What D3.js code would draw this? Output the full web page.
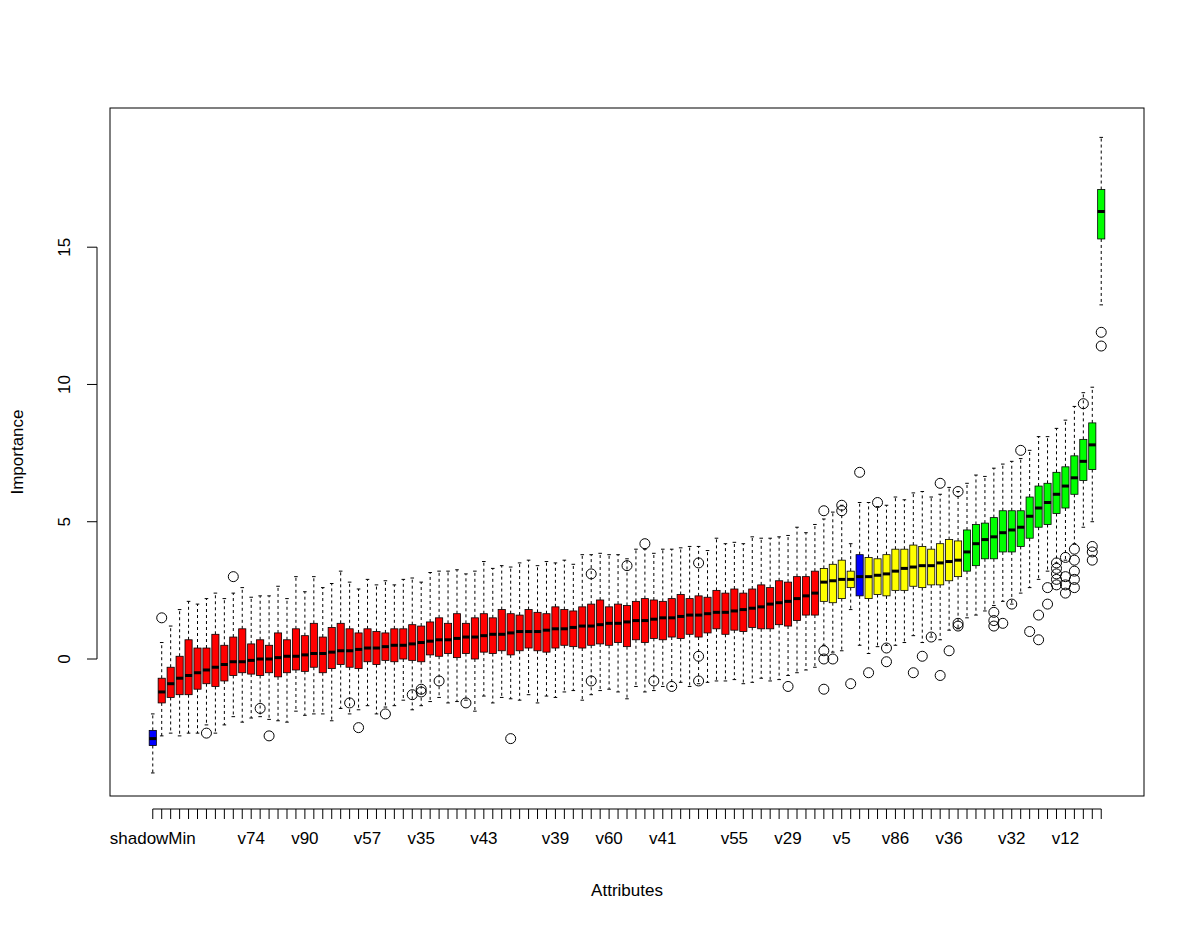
<!DOCTYPE html>
<html><head><meta charset="utf-8">
<script src="https://cdn.jsdelivr.net/npm/d3@7"></script>
<style>body{margin:0;background:#fff}text{font-family:"Liberation Sans",Arial,sans-serif}</style>
</head><body><svg id="c" width="1200" height="933"></svg>
<script>
const medians=[-2.9,-1.2,-0.9,-0.7,-0.6,-0.5,-0.4,-0.3,-0.2,-0.1,-0.1,-0.05,0,0,0.05,0.1,0.1,0.15,0.2,0.2,0.25,0.3,0.3,0.35,0.4,0.4,0.45,0.5,0.5,0.55,0.6,0.65,0.7,0.7,0.75,0.8,0.8,0.85,0.9,0.9,0.95,1.0,1.0,1.0,1.05,1.1,1.1,1.15,1.2,1.2,1.25,1.3,1.3,1.35,1.4,1.4,1.45,1.5,1.5,1.55,1.6,1.6,1.65,1.7,1.7,1.75,1.8,1.85,1.9,2.0,2.05,2.1,2.2,2.3,2.4,2.8,2.85,2.9,2.9,3.0,3.0,3.05,3.1,3.2,3.3,3.35,3.4,3.4,3.5,3.55,3.6,3.9,4.2,4.35,4.45,4.6,4.7,4.8,5.2,5.5,5.7,6.0,6.3,6.6,7.2,7.8,16.3];
const lowBox=[0.25,0.4,0.5,0.6,0.7,0.6,0.5,0.7,0.6,0.5,0.4,0.5,0.6,0.5,0.7,0.6,0.5,0.6,0.5,0.7,0.6,0.5,0.6,0.7,0.5,0.6,0.5,0.6,0.5,0.6,0.7,0.5,0.6,0.5,0.7,0.6,0.8,0.6,0.7,0.6,0.8,0.7,0.6,0.7,0.8,0.7,0.6,0.7,0.8,0.7,0.7,0.8,0.7,0.9,0.7,0.8,0.7,0.8,0.7,0.8,0.7,0.8,0.7,0.6,0.8,0.7,0.8,0.7,0.8,0.9,0.8,0.9,0.8,0.7,0.8,0.7,0.8,0.7,0.3,0.7,0.8,0.7,0.8,0.7,0.8,0.7,0.8,0.7,0.8,0.7,0.6,0.7,0.8,0.7,0.8,0.7,0.8,0.7,0.8,0.7,0.8,0.7,0.8,0.6,0.7,0.9,1.0];
const highBox=[0.3,0.5,0.6,0.8,1.3,0.9,0.8,1.2,0.7,0.9,1.2,0.6,0.7,0.5,0.9,0.6,1.0,0.7,1.1,0.6,0.9,1.0,0.8,0.6,0.7,0.6,0.5,0.6,0.6,0.7,0.6,0.7,0.8,0.6,0.9,0.5,0.7,0.8,0.6,0.9,0.7,0.6,0.8,0.7,0.6,0.8,0.7,0.6,0.7,0.8,0.9,0.6,0.7,0.6,0.7,0.8,0.7,0.6,0.7,0.8,0.6,0.7,0.6,0.8,0.7,0.8,0.6,0.7,0.8,0.6,0.8,0.7,0.8,0.7,0.8,0.5,0.6,0.7,0.3,0.8,0.7,0.6,0.7,0.8,0.7,0.8,0.7,0.6,0.7,0.8,0.7,0.8,0.7,0.6,0.7,0.8,0.7,0.6,0.7,0.8,0.7,0.8,0.7,0.8,0.8,0.8,0.8];
const whiskLo=[1.0,1.2,1.3,1.5,1.4,1.6,1.5,1.7,1.6,1.5,1.8,1.6,1.5,1.7,1.6,1.8,1.5,1.6,1.7,1.5,1.9,1.6,1.7,1.5,1.6,1.8,1.7,1.6,1.5,1.8,1.6,1.7,1.5,1.8,1.6,1.7,1.9,1.6,1.8,1.7,1.6,1.8,1.7,1.9,1.6,1.8,1.7,1.6,1.9,1.8,1.7,1.6,1.8,1.9,1.7,1.8,1.9,1.7,1.8,1.6,1.9,1.7,1.8,1.9,1.7,1.8,1.9,2.0,1.8,1.9,2.0,1.8,1.9,2.0,1.9,1.6,1.8,1.9,0.8,1.8,2.0,1.9,1.8,2.0,1.9,1.8,2.0,1.9,2.0,1.8,1.9,1.7,1.8,1.9,1.7,1.8,1.9,1.7,1.8,1.9,1.7,1.8,1.9,1.8,1.7,1.9,2.4];
const whiskHi=[0.6,1.3,1.5,1.7,1.4,1.6,1.8,1.5,1.7,1.6,1.5,1.7,1.6,1.8,1.7,1.5,1.9,1.6,1.7,1.8,1.6,1.9,1.7,1.6,1.8,1.7,1.9,1.6,1.8,1.7,1.6,1.8,1.7,1.9,1.6,1.8,1.7,1.9,1.8,1.6,1.7,1.9,1.8,1.7,1.9,1.6,1.8,1.7,1.9,1.8,1.7,1.9,1.8,1.7,1.9,1.8,1.7,1.9,1.8,1.7,1.9,1.8,1.7,1.9,1.8,1.7,1.8,1.9,1.7,1.8,1.6,1.7,1.8,1.6,1.7,1.8,1.9,2.0,1.0,1.9,2.0,1.9,1.8,1.9,1.8,1.9,2.0,1.9,1.8,1.9,1.8,1.7,1.8,1.7,1.8,1.7,1.8,1.9,1.7,1.8,1.7,1.6,1.7,1.8,1.7,1.3,1.9];
const decisions=["s","r","r","r","r","r","r","r","r","r","r","r","r","r","r","r","r","r","r","r","r","r","r","r","r","r","r","r","r","r","r","r","r","r","r","r","r","r","r","r","r","r","r","r","r","r","r","r","r","r","r","r","r","r","r","r","r","r","r","r","r","r","r","r","r","r","r","r","r","r","r","r","r","r","r","y","y","y","y","s","y","y","y","y","y","y","y","y","y","y","y","g","g","g","g","g","g","g","g","g","g","g","g","g","g","g","g"];
const labelIdx=[0,11,17,24,30,37,45,51,57,65,71,77,83,89,96,102];
const labelText=["shadowMin","v74","v90","v57","v35","v43","v39","v60","v41","v55","v29","v5","v86","v36","v32","v12"];
const outIdx=[1,9,6,12,13,22,23,26,29,30,30,32,35,40,49,49,53,55,56,58,61,61,61,71,75,75,75,75,76,77,77,78,79,80,81,82,82,85,86,87,88,88,89,90,90,90,94,94,94,95,96,97,98,99,99,100,100,101,101,101,101,101,102,102,102,102,103,103,103,103,103,104,105,105,105,106,106];
const outVal=[1.5,3.0,-2.7,-1.8,-2.8,-1.6,-2.5,-2.0,-1.3,-1.1,-1.2,-0.8,-1.6,-2.9,3.1,-0.8,3.4,4.2,-0.8,-1.0,3.5,0.1,-0.8,-1.0,5.4,0.3,0.0,-1.1,0.0,5.6,5.4,-0.9,6.8,-0.5,5.7,0.4,-0.1,-0.5,0.1,0.8,-0.6,6.4,0.3,6.1,1.3,1.2,1.7,1.4,1.2,1.3,2.0,7.6,1.0,0.7,1.6,2.0,2.6,2.7,2.9,3.1,3.3,3.5,3.7,2.4,2.7,3.0,2.6,2.9,3.2,3.6,4.0,9.3,3.6,3.9,4.1,11.9,11.4];
const yTicks=[0,5,10,15];
const colors={s:"#0000ff",r:"#ff0000",y:"#ffff00",g:"#00ff00"};

const svg=d3.select("#c");
const L=110,R=1144,T=108,B=796;
const n=medians.length;
const pad=0.04*(n);
const x=d3.scaleLinear().domain([0.5-pad,n+0.5+pad]).range([L,R]);
const y=d3.scaleLinear().domain([-4.99,20.07]).range([B,T]);
const bw=(x(1)-x(0))*0.8;
const g=svg.append("g");
medians.forEach((m,i)=>{
  const cx=x(i+1),q1=m-lowBox[i],q3=m+highBox[i],lo=q1-whiskLo[i],hi=q3+whiskHi[i];
  g.append("line").attr("x1",cx).attr("x2",cx).attr("y1",y(q3)).attr("y2",y(hi)).attr("stroke","#000").attr("stroke-dasharray","3,3");
  g.append("line").attr("x1",cx).attr("x2",cx).attr("y1",y(q1)).attr("y2",y(lo)).attr("stroke","#000").attr("stroke-dasharray","3,3");
  [lo,hi].forEach(v=>g.append("line").attr("x1",cx-bw/4).attr("x2",cx+bw/4).attr("y1",y(v)).attr("y2",y(v)).attr("stroke","#000"));
  g.append("rect").attr("x",cx-bw/2).attr("width",bw).attr("y",y(q3)).attr("height",y(q1)-y(q3)).attr("fill",colors[decisions[i]]).attr("stroke","#000").attr("stroke-width",0.8);
  g.append("line").attr("x1",cx-bw/2).attr("x2",cx+bw/2).attr("y1",y(m)).attr("y2",y(m)).attr("stroke","#000").attr("stroke-width",3);
});
outIdx.forEach((k,j)=>g.append("circle").attr("cx",x(k+1)).attr("cy",y(outVal[j])).attr("r",5).attr("fill","none").attr("stroke","#000"));
svg.append("rect").attr("x",L).attr("y",T).attr("width",R-L).attr("height",B-T).attr("fill","none").attr("stroke","#000");
// y axis
const ya=svg.append("g");
ya.append("line").attr("x1",97).attr("x2",97).attr("y1",y(0)).attr("y2",y(15)).attr("stroke","#000");
yTicks.forEach(t=>{ya.append("line").attr("x1",87).attr("x2",97).attr("y1",y(t)).attr("y2",y(t)).attr("stroke","#000");
 ya.append("text").attr("transform",`translate(70,${y(t)}) rotate(-90)`).attr("text-anchor","middle").attr("font-size",17).text(t);});
// x axis
const xa=svg.append("g");
xa.append("line").attr("x1",x(1)).attr("x2",x(n)).attr("y1",809).attr("y2",809).attr("stroke","#000");
medians.forEach((m,i)=>xa.append("line").attr("x1",x(i+1)).attr("x2",x(i+1)).attr("y1",809).attr("y2",819).attr("stroke","#000"));
labelIdx.forEach((k,j)=>xa.append("text").attr("x",x(k+1)).attr("y",844).attr("text-anchor","middle").attr("font-size",17).text(labelText[j]));
svg.append("text").attr("x",627).attr("y",896).attr("text-anchor","middle").attr("font-size",17).text("Attributes");
svg.append("text").attr("transform","translate(23,452) rotate(-90)").attr("text-anchor","middle").attr("font-size",17).text("Importance");
</script></body></html>
